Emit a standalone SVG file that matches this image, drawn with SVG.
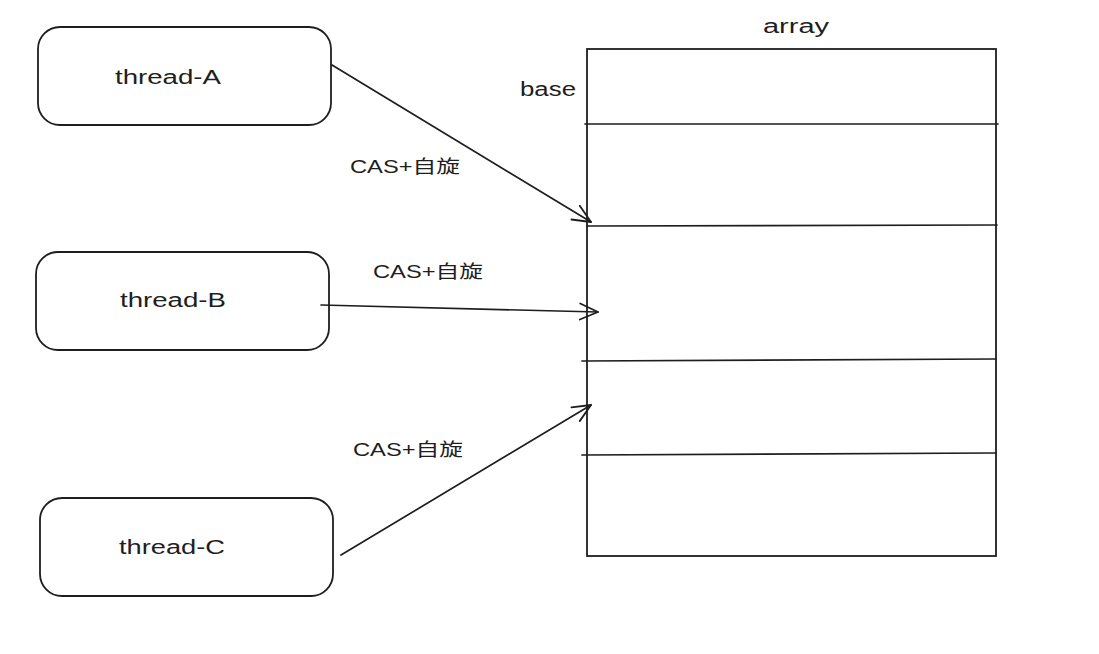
<svg xmlns="http://www.w3.org/2000/svg" width="1099" height="654" viewBox="0 0 1099 654">
<defs>
<style>
.box{fill:#fff;stroke:#1e1e1e;stroke-width:1.8}
.ln{fill:none;stroke:#1e1e1e;stroke-width:1.7;stroke-linecap:round}
.t{font-family:"Liberation Sans","Noto Sans CJK SC",sans-serif;fill:#1e1e1e}
.lbl{font-size:20px}
.cas{font-size:18px}
</style>
<marker id="ah" viewBox="0 0 24 24" refX="22" refY="12" markerWidth="24" markerHeight="24" markerUnits="userSpaceOnUse" orient="auto">
<path d="M4,4 L22,12 L4,20" fill="none" stroke="#1e1e1e" stroke-width="1.8" stroke-linecap="round" stroke-linejoin="round"/>
</marker>
</defs>
<rect width="1099" height="654" fill="#fff"/>
<g id="thread-A">
<rect class="box" x="38" y="27" width="293" height="98" rx="22"/>
<text class="t lbl" x="168" y="84" text-anchor="middle" textLength="106" lengthAdjust="spacingAndGlyphs">thread-A</text>
</g>
<g id="thread-B">
<rect class="box" x="36" y="252" width="293" height="98" rx="22"/>
<text class="t lbl" x="173" y="307" text-anchor="middle" textLength="106" lengthAdjust="spacingAndGlyphs">thread-B</text>
</g>
<g id="thread-C">
<rect class="box" x="40" y="498" width="293" height="98" rx="22"/>
<text class="t lbl" x="172" y="554" text-anchor="middle" textLength="106" lengthAdjust="spacingAndGlyphs">thread-C</text>
</g>
<g id="array">
<rect class="box" x="587" y="49" width="409" height="507"/>
<path class="ln" d="M585,124 L998,124 M587,226 L997,225 M582,361 L996,359 M582,455 L996,453"/>
<text class="t lbl" x="796" y="33" text-anchor="middle" textLength="66" lengthAdjust="spacingAndGlyphs">array</text>
<text class="t lbl" x="548" y="96" text-anchor="middle" textLength="56" lengthAdjust="spacingAndGlyphs">base</text>
</g>
<g id="connectors">
<path class="ln" d="M332,65 L591,222" marker-end="url(#ah)"/>
<path class="ln" d="M321,305 L598,312" marker-end="url(#ah)"/>
<path class="ln" d="M341,555 L591,405" marker-end="url(#ah)"/>
<text class="t cas" x="350" y="173" textLength="110" lengthAdjust="spacingAndGlyphs">CAS+自旋</text>
<text class="t cas" x="373" y="278" textLength="110" lengthAdjust="spacingAndGlyphs">CAS+自旋</text>
<text class="t cas" x="353" y="456" textLength="110" lengthAdjust="spacingAndGlyphs">CAS+自旋</text>
</g>
</svg>
